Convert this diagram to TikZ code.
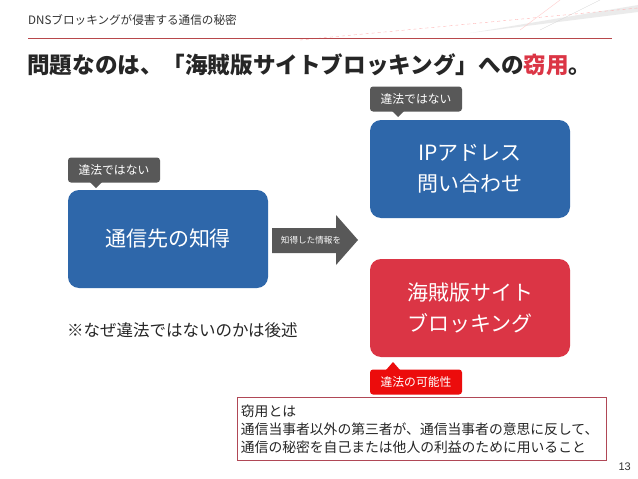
\documentclass[tikz,border=0pt]{standalone}
\usepackage{fontspec}
\newfontfamily\jp{Noto Sans CJK JP}
\setmainfont{Liberation Sans}
\definecolor{boxblue}{HTML}{2E67AA}
\definecolor{boxred}{HTML}{DB3545}
\definecolor{taggray}{HTML}{585858}
\definecolor{tagred}{HTML}{EC0C0C}
\definecolor{rulered}{HTML}{B8474B}
\definecolor{defborder}{HTML}{B04856}
\begin{document}
\begin{tikzpicture}[x=1pt,y=-1pt,
  bigbox/.style={rounded corners=11pt,minimum width=200pt,minimum height=98pt,text=white,font=\jp\fontsize{21}{31}\selectfont,align=center,inner sep=0pt},
  tagbox/.style={rounded corners=3pt,minimum width=92pt,minimum height=25pt,text=white,font=\jp\fontsize{11.8}{14}\selectfont,inner sep=0pt}]
\useasboundingbox (0,0) rectangle (638,479);
\fill[white] (0,0) rectangle (638,479);
% decorative streaks top right
\fill[gray!25,opacity=0.6] (470,33) -- (638,5) -- (638,12) -- cycle;
\draw[red!30,dashed] (300,40) -- (638,8);
\draw[red!20] (560,0) -- (520,30);
\draw[gray!30] (600,0) -- (540,30);
% header
\node[anchor=west,inner sep=0pt,text=black!80,font=\jp\fontsize{11.6}{14}\selectfont] (hdr) at (28,20) {DNSブロッキングが侵害する通信の秘密};
\draw[rulered,line width=0.8pt] (28,38) coordinate (r1) -- (612,38) coordinate (r2);
\node[anchor=west,inner sep=0pt,font=\jp\bfseries\fontsize{22.6}{26}\selectfont,text=black!85] (title) at (27,65) {問題なのは、「海賊版サイトブロッキング」への\textcolor{boxred}{窃用}。};
% boxes
\node[bigbox,fill=boxblue] (b1) at (168,239) {通信先の知得};
\node[bigbox,fill=boxblue] (b2) at (470,169) {IPアドレス\\問い合わせ};
\node[bigbox,fill=boxred] (b3) at (470,308) {海賊版サイト\\ブロッキング};
% tags
\node[tagbox,fill=taggray] (t1) at (114,170) {違法ではない};
\fill[taggray] (90,182) -- (96,188) -- (102,182) -- cycle;
\node[tagbox,fill=taggray] (t2) at (416,99) {違法ではない};
\fill[taggray] (392,111) -- (398,117) -- (404,111) -- cycle;
\node[tagbox,fill=tagred] (t3) at (416,382) {違法の可能性};
\fill[tagred] (386,370) -- (393,362) -- (400,370) -- cycle;
% arrow
\fill[taggray] (272,228) -- (336,228) -- (336,215) -- (358,240) -- (336,265) -- (336,253) -- (272,253) -- cycle;
\node[text=white,font=\jp\fontsize{8.6}{10}\selectfont,inner sep=0pt] (arl) at (311,240) {知得した情報を};
% note
\node[anchor=west,inner sep=0pt,font=\jp\fontsize{16.5}{18}\selectfont,text=black!85] (note) at (67,330) {※なぜ違法ではないのかは後述};
% definition
\node[draw=defborder,line width=0.8pt,anchor=north west,minimum width=369pt,minimum height=63pt,text width=362pt,inner sep=3pt,align=left,font=\jp\fontsize{13.8}{18}\selectfont,text=black!85] (def) at (237,397) {窃用とは\\通信当事者以外の第三者が、通信当事者の意思に反して、\\通信の秘密を自己または他人の利益のために用いること};
\node[anchor=east,inner sep=0pt,font=\fontsize{11}{13}\selectfont,text=black!80] (pg) at (631,467) {13};
\end{tikzpicture}
\end{document}
